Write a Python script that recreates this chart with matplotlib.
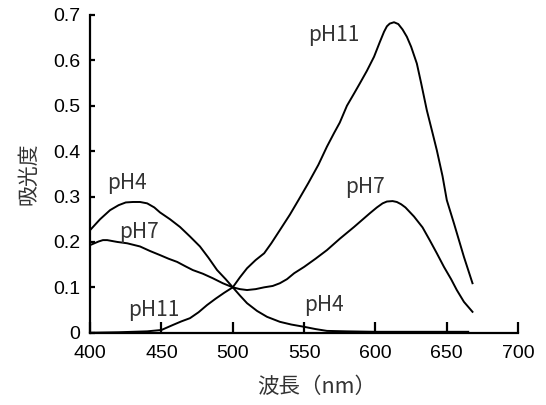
import matplotlib
matplotlib.use("Agg")
import matplotlib.pyplot as plt

# absorbance spectra
wl_ph4 = [400, 407, 414, 420, 425, 430, 435, 440, 445, 449, 456, 463, 470, 477, 483, 489,
          495, 500, 505, 510, 517, 524, 533, 541, 550, 558, 566, 580, 600, 620, 640, 665]
abs_ph4 = [0.226, 0.25, 0.27, 0.281, 0.287, 0.288, 0.288, 0.285, 0.276, 0.265, 0.25, 0.233,
           0.212, 0.19, 0.165, 0.138, 0.118, 0.1, 0.082, 0.065, 0.048, 0.035, 0.024, 0.018,
           0.013, 0.008, 0.004, 0.003, 0.002, 0.002, 0.002, 0.002]

wl_ph7 = [400, 403, 406, 409, 412, 419, 426, 435, 442, 449, 455, 461, 467, 472, 479, 486,
          493, 500, 505, 510, 516, 522, 528, 533, 538, 543, 550, 558, 566, 575, 585, 596,
          601, 605, 608, 612, 615, 618, 621, 627, 633, 638, 643, 648, 653, 657, 662, 668]
abs_ph7 = [0.193, 0.197, 0.201, 0.204, 0.204, 0.2, 0.197, 0.19, 0.18, 0.171, 0.163, 0.156,
           0.146, 0.138, 0.13, 0.12, 0.109, 0.1, 0.096, 0.094, 0.096, 0.1, 0.103, 0.109,
           0.118, 0.131, 0.145, 0.163, 0.182, 0.207, 0.233, 0.263, 0.276, 0.285, 0.289,
           0.29, 0.288, 0.283, 0.276, 0.256, 0.232, 0.204, 0.175, 0.145, 0.118, 0.094,
           0.068, 0.046]

wl_ph11 = [400, 420, 440, 450, 458, 464, 470, 476, 482, 488, 494, 500, 505, 510, 516, 522,
           527, 533, 540, 546, 553, 560, 566, 571, 575, 580, 585, 589, 594, 599, 603, 606,
           608, 610, 613, 616, 619, 622, 625, 629, 632, 636, 640, 643, 647, 650, 655, 662,
           668]
abs_ph11 = [0.0, 0.001, 0.003, 0.006, 0.017, 0.025, 0.032, 0.045, 0.061, 0.075, 0.088, 0.1,
            0.122, 0.142, 0.16, 0.175, 0.197, 0.226, 0.26, 0.292, 0.33, 0.37, 0.41, 0.44,
            0.463, 0.5, 0.527, 0.549, 0.577, 0.608, 0.64, 0.663, 0.675, 0.681, 0.684, 0.68,
            0.668, 0.652, 0.63, 0.593, 0.55, 0.49, 0.44, 0.402, 0.345, 0.292, 0.241, 0.167,
            0.109]

# curve labels: text, wavelength, absorbance (left / vertical centre)
label_text = ["pH11", "pH7", "pH4", "pH7", "pH11", "pH4"]
label_x = [553, 579, 412, 420, 427, 550]
label_y = [0.656, 0.321, 0.33, 0.222, 0.05, 0.061]

x_ticks = [400, 450, 500, 550, 600, 650, 700]
y_ticks = [0, 0.1, 0.2, 0.3, 0.4, 0.5, 0.6, 0.7]
y_tick_labels = ["0", "0.1", "0.2", "0.3", "0.4", "0.5", "0.6", "0.7"]

jp = ["Noto Sans CJK JP", "DejaVu Sans"]

fig = plt.figure(figsize=(5.46, 4.05), dpi=100)
ax = fig.add_axes([0.165, 0.1785, 0.784, 0.7845])

for wl, ab in [(wl_ph4, abs_ph4), (wl_ph7, abs_ph7), (wl_ph11, abs_ph11)]:
    ax.plot(wl, ab, color="black", lw=1.4)

for t, x, y in zip(label_text, label_x, label_y):
    ax.text(x, y, t, fontsize=15, color="#333333", family=jp, ha="left", va="center")

ax.set_xlim(400, 700)
ax.set_ylim(0, 0.7)
ax.set_xticks(x_ticks)
ax.set_yticks(y_ticks)
ax.set_yticklabels(y_tick_labels)
ax.spines["top"].set_visible(False)
ax.spines["right"].set_visible(False)
for s in ["left", "bottom"]:
    ax.spines[s].set_linewidth(1.6)
ax.tick_params(axis="x", direction="in", length=8, width=1.6, labelsize=14, pad=9)
ax.tick_params(axis="y", direction="in", length=3.5, width=1.6, labelsize=14, pad=7)
for lab in ax.get_xticklabels() + ax.get_yticklabels():
    lab.set_family("Liberation Sans")

ax.set_xlabel("波長（nm）", family=jp, fontsize=15.5, color="#333333")
ax.xaxis.set_label_coords(0.53, -0.135)
ax.set_ylabel("吸光度", family=jp, fontsize=15, color="#333333", labelpad=10)

fig.savefig("out.png", dpi=100)
